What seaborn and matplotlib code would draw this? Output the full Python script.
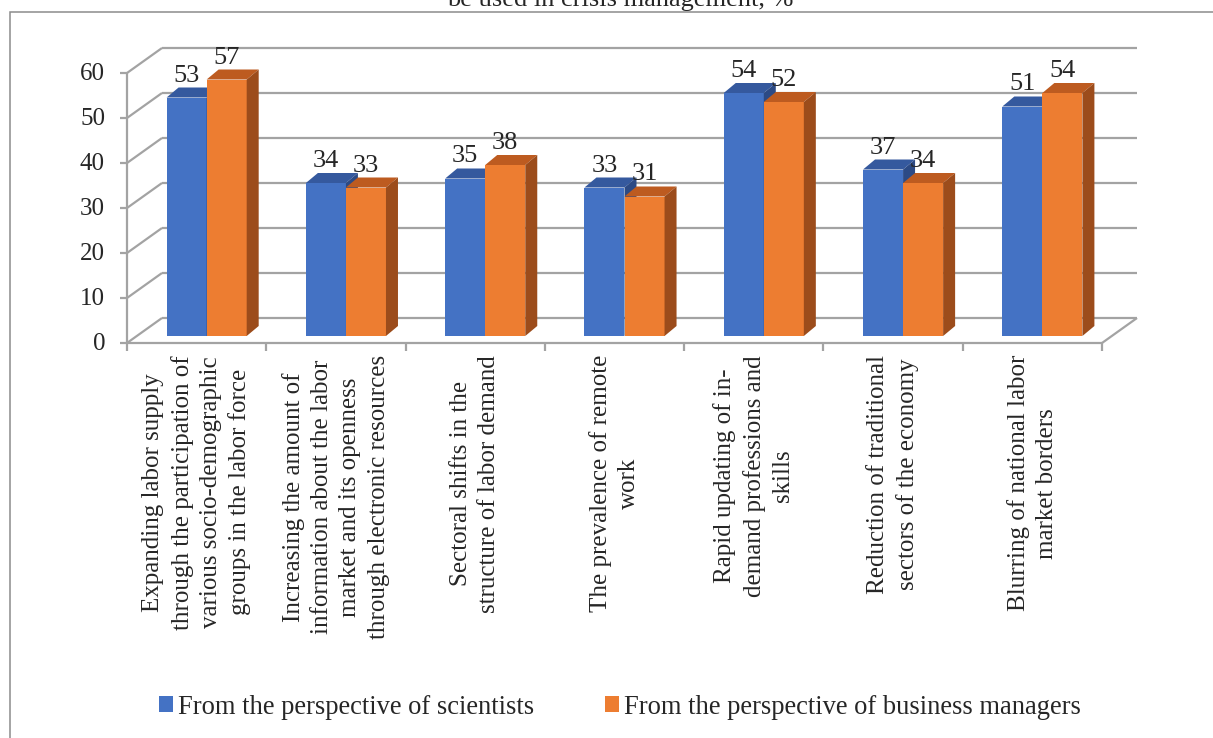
import numpy as np
import pandas as pd
import seaborn as sns
import matplotlib
matplotlib.use("Agg")
import matplotlib.pyplot as plt
from matplotlib.patches import Polygon, Rectangle, Patch

# ---- data -----------------------------------------------------------------
categories = [
    "Expanding labor supply\nthrough the participation of\nvarious socio-demographic\ngroups in the labor force",
    "Increasing the amount of\ninformation about the labor\nmarket and its openness\nthrough electronic resources",
    "Sectoral shifts in the\nstructure of labor demand",
    "The prevalence of remote\nwork",
    "Rapid updating of in-\ndemand professions and\nskills",
    "Reduction of traditional\nsectors of the economy",
    "Blurring of national labor\nmarket borders",
]
series_names = ["From the perspective of scientists",
                "From the perspective of business managers"]
scientists = [53, 34, 35, 33, 54, 37, 51]
managers = [57, 33, 38, 31, 52, 34, 54]
y_ticks = [0, 10, 20, 30, 40, 50, 60]
title_text = "be used in crisis management, %"

# ---- style ----------------------------------------------------------------
sns.set_style("white")
plt.rcParams["font.family"] = ["Liberation Serif", "DejaVu Serif"]
FS_TICK = 18
FS_CAT = 18
FS_VAL = 19
FS_LEG = 19.1
FS_TITLE = 19

BLUE, ORANGE = "#4472C4", "#ED7D31"
TOP = {BLUE: "#35599e", ORANGE: "#bd5b20"}
SIDE = {BLUE: "#2c4a85", ORANGE: "#9c4c1b"}
GRID = "#a3a3a3"

W, H = 1213, 738
fig = plt.figure(figsize=(W / 100, H / 100), dpi=100)

# axes occupy the plane in which the bar fronts stand
ax = fig.add_axes([137 / W, (H - 336) / H, 975 / W, 270 / H])

df = pd.DataFrame({
    "category": categories * 2,
    "value": scientists + managers,
    "series": [series_names[0]] * len(categories) + [series_names[1]] * len(categories),
})
sns.barplot(data=df, x="category", y="value", hue="series", order=categories,
            hue_order=series_names, palette=[BLUE, ORANGE], width=0.575,
            saturation=1, linewidth=0, legend=False, ax=ax)
ax.set_xlim(-0.5, len(categories) - 0.5)
ax.set_ylim(0, 60)
ax.axis("off")

# pixel -> data unit conversion for the oblique depth offsets
p0 = ax.transData.transform((0, 0))
ppx = ax.transData.transform((1, 0))[0] - p0[0]
ppy = ax.transData.transform((0, 1))[1] - p0[1]


def plane(x, y, dx, dy):
    return x + dx / ppx, y + dy / ppy


FRONT = (-10, -7)
BACK = (25, 18)
x_lo, x_hi = -0.5, len(categories) - 0.5

line_kw = dict(color=GRID, lw=1.6, clip_on=False, zorder=0.5, solid_capstyle="butt")

# back wall gridlines and left wall diagonals
for v in y_ticks:
    a = plane(x_lo, v, *BACK)
    b = plane(x_hi, v, *BACK)
    ax.plot([a[0], b[0]], [a[1], b[1]], **line_kw)
    f = plane(x_lo, v, *FRONT)
    ax.plot([f[0], a[0]], [f[1], a[1]], **line_kw)
    # y tick marks and labels on the front axis
    t = plane(x_lo, v, FRONT[0] - 7, FRONT[1])
    ax.plot([t[0], f[0]], [t[1], f[1]], **line_kw)
    lab = plane(x_lo, v, FRONT[0] - 22, FRONT[1] - 7)
    ax.text(lab[0], lab[1], str(v), ha="right", va="baseline", fontsize=FS_TICK,
            clip_on=False)

# front axis, floor front edge and floor right edge
fa = plane(x_lo, 0, *FRONT)
fb = plane(x_lo, 60, *FRONT)
ax.plot([fa[0], fb[0]], [fa[1], fb[1]], **line_kw)
fr = plane(x_hi, 0, *FRONT)
ax.plot([fa[0], fr[0]], [fa[1], fr[1]], **line_kw)
br = plane(x_hi, 0, *BACK)
ax.plot([fr[0], br[0]], [fr[1], br[1]], **line_kw)

# category boundary tick marks
for k in range(len(categories) + 1):
    t0 = plane(x_lo + k, 0, *FRONT)
    t1 = plane(x_lo + k, 0, FRONT[0], FRONT[1] - 8)
    ax.plot([t0[0], t1[0]], [t0[1], t1[1]], **line_kw)

# category labels, rotated and centred under each group
for i, cat in enumerate(categories):
    px, py = plane(i, 0, FRONT[0], -19)
    ax.text(px, py, cat, rotation=90, ha="center", va="top",
            multialignment="center", fontsize=FS_CAT, linespacing=1.36,
            clip_on=False)

# give each bar its top and side faces, drawn left to right
DDX, DDY = 12 / ppx, 10 / ppy
bars = sorted(ax.patches, key=lambda p: p.get_x())
for i, p in enumerate(bars):
    x0, w, h = p.get_x(), p.get_width(), p.get_height()
    col = matplotlib.colors.to_hex(p.get_facecolor()).upper()
    col = BLUE if col == BLUE.upper() else ORANGE
    z = 2 + 3 * i
    p.set_zorder(z)
    top = Polygon([(x0, h), (x0 + w, h), (x0 + w + DDX, h + DDY), (x0 + DDX, h + DDY)],
                  closed=True, fc=TOP[col], ec="none", zorder=z + 1, clip_on=False)
    side = Polygon([(x0 + w, 0), (x0 + w, h), (x0 + w + DDX, h + DDY), (x0 + w + DDX, DDY)],
                   closed=True, fc=SIDE[col], ec="none", zorder=z + 1, clip_on=False)
    ax.add_patch(top)
    ax.add_patch(side)
    ax.annotate(f"{h:g}", (x0 + w / 2, h), xytext=(0, 16 * 0.72),
                textcoords="offset points", ha="center", va="baseline",
                fontsize=FS_VAL, zorder=100, annotation_clip=False)

# legend
handles = [Patch(fc=BLUE, ec="none"), Patch(fc=ORANGE, ec="none")]
fig.legend(handles, series_names, loc="center", bbox_to_anchor=(620 / W, 1 - 707 / H),
           ncol=2, frameon=False, fontsize=FS_LEG, handlelength=0.52, handleheight=0.52,
           handletextpad=0.19, columnspacing=2.66)

# partially visible heading and chart frame
fig.text(620 / W, 1 - 6 / H, title_text, ha="center", va="baseline", fontsize=FS_TITLE)
fig.patches.append(Rectangle((10 / W, -0.05), 1.2, 1.05 - 12 / H, transform=fig.transFigure,
                             fill=False, ec="#8c8c8c", lw=1.1))

fig.savefig("out.png", dpi=100)
